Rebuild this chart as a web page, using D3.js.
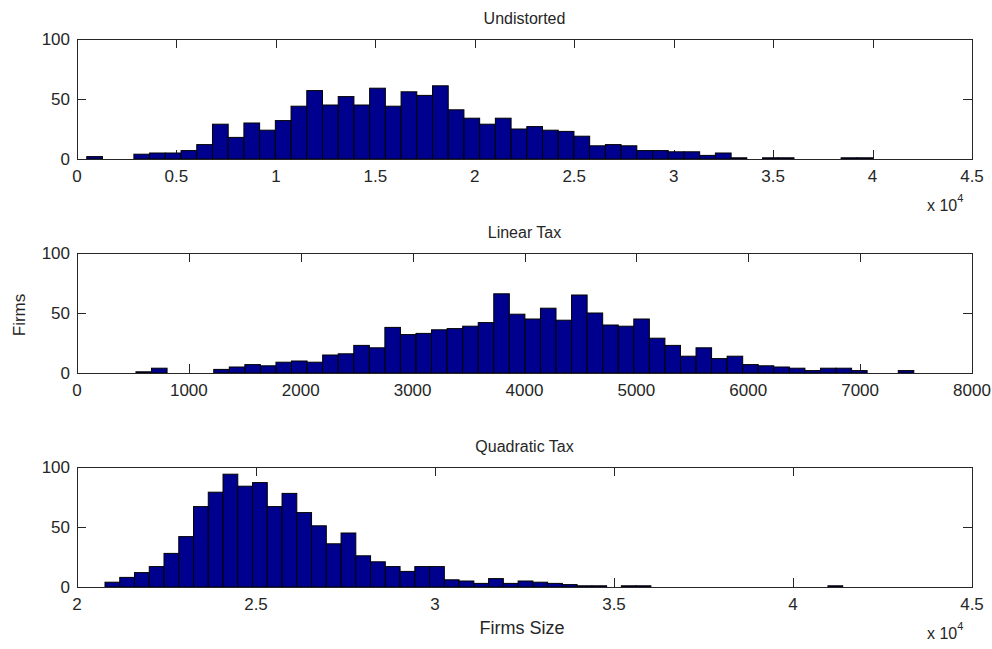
<!DOCTYPE html>
<html>
<head>
<meta charset="utf-8">
<script src="https://cdn.jsdelivr.net/npm/d3@7"></script>
<style>
  html, body { margin: 0; padding: 0; background: #fff; }
  svg text { font-family: "Liberation Sans", Arial, sans-serif; fill: #262626; }
</style>
</head>
<body>
<svg id="chart" width="992" height="649"></svg>
<script>
// Histogram counts (50 equal-width bins per panel)
const undistortedCounts = [2,0,0,4,5,5,7,12,29,18,30,24,32,44,57,45,52,45,59,44,
  56,53,61,41,34,29,34,25,27,24,23,19,11,12,11,7,7,6,6,3,5,1,0,1,1,0,0,0,1,1];
const linearCounts = [1,4,0,0,0,3,5,7,6,9,10,9,15,16,23,21,38,32,33,36,
  37,39,42,66,49,45,54,44,65,50,40,39,45,29,23,14,21,12,14,7,6,5,4,2,4,4,2,0,0,2];
const quadraticCounts = [4,8,12,17,28,42,67,79,94,84,87,67,78,62,51,36,45,26,21,17,
  13,17,17,6,5,3,7,3,5,4,3,2,1,1,0,1,1,0,0,0,0,0,0,0,0,0,0,0,0,1];

// Data range covered by the bins of each panel [min, max]
const undistortedRange = [490, 40000];
const linearRange = [527, 7480];
const quadraticRange = [20782, 41388];

// Axis domains and ticks
const undistortedDomain = [0, 45000];
const linearDomain = [0, 8000];
const quadraticDomain = [20000, 45000];
const undistortedTicks = [0, 5000, 10000, 15000, 20000, 25000, 30000, 35000, 40000, 45000];
const linearTicks = [0, 1000, 2000, 3000, 4000, 5000, 6000, 7000, 8000];
const quadraticTicks = [20000, 25000, 30000, 35000, 40000, 45000];
const yTicks = [0, 50, 100];

const titles = ["Undistorted", "Linear Tax", "Quadratic Tax"];

const svg = d3.select("#chart");
const left = 77, right = 972;
const panelTops = [39, 253, 467];
const panelH = 120;
const tickLen = 9;
const barFill = "rgb(0,0,143)";
const axisColor = "#262626";

const panels = [
  { counts: undistortedCounts, range: undistortedRange, domain: undistortedDomain, ticks: undistortedTicks, exp: true },
  { counts: linearCounts, range: linearRange, domain: linearDomain, ticks: linearTicks, exp: false },
  { counts: quadraticCounts, range: quadraticRange, domain: quadraticDomain, ticks: quadraticTicks, exp: true }
];

panels.forEach((p, k) => {
  const top = panelTops[k], bottom = top + panelH;
  const x = d3.scaleLinear().domain(p.domain).range([left, right]);
  const y = d3.scaleLinear().domain([0, 100]).range([bottom, top]);
  const g = svg.append("g");

  // bin edges from the bin range
  const n = p.counts.length;
  const w = (p.range[1] - p.range[0]) / n;
  const bins = p.counts.map((c, i) => ({ x0: p.range[0] + i * w, x1: p.range[0] + (i + 1) * w, c }));

  // inward ticks on all four sides
  const tickG = g.append("g").attr("stroke", axisColor).attr("stroke-width", 1).attr("shape-rendering", "crispEdges");
  p.ticks.forEach(t => {
    const xp = Math.round(x(t)) + 0.5;
    tickG.append("line").attr("x1", xp).attr("x2", xp).attr("y1", bottom).attr("y2", bottom - tickLen);
    tickG.append("line").attr("x1", xp).attr("x2", xp).attr("y1", top).attr("y2", top + tickLen);
  });
  yTicks.forEach(t => {
    const yp = Math.round(y(t)) + 0.5;
    tickG.append("line").attr("x1", left).attr("x2", left + tickLen).attr("y1", yp).attr("y2", yp);
    tickG.append("line").attr("x1", right).attr("x2", right - tickLen).attr("y1", yp).attr("y2", yp);
  });

  // bars
  g.append("g").selectAll("rect").data(bins).join("rect")
    .attr("x", d => x(d.x0))
    .attr("width", d => x(d.x1) - x(d.x0))
    .attr("y", d => y(d.c))
    .attr("height", d => y(0) - y(d.c))
    .attr("fill", barFill)
    .attr("stroke", "#000")
    .attr("stroke-width", 1);

  // axes box
  g.append("rect")
    .attr("x", left + 0.5).attr("y", top + 0.5)
    .attr("width", right - left).attr("height", panelH)
    .attr("fill", "none").attr("stroke", axisColor).attr("stroke-width", 1)
    .attr("shape-rendering", "crispEdges");

  // x tick labels
  const fmt = p.exp ? (t => d3.format("~g")(t / 10000)) : (t => String(t));
  g.append("g").selectAll("text").data(p.ticks).join("text")
    .attr("x", d => x(d)).attr("y", bottom + 23)
    .attr("text-anchor", "middle").attr("font-size", 17)
    .text(fmt);

  // y tick labels
  g.append("g").selectAll("text").data(yTicks).join("text")
    .attr("x", left - 7).attr("y", d => y(d) + 6)
    .attr("text-anchor", "end").attr("font-size", 17)
    .text(d => d);

  // title
  g.append("text")
    .attr("x", (left + right) / 2).attr("y", top - 15)
    .attr("text-anchor", "middle").attr("font-size", 16)
    .text(titles[k]);

  // exponent label
  if (p.exp) {
    const ex = g.append("text")
      .attr("x", 927).attr("y", bottom + 52)
      .attr("font-size", 16);
    ex.append("tspan").text("x 10");
    ex.append("tspan").attr("dy", -9).attr("font-size", 11).text("4");
  }
});

// axis labels
svg.append("text")
  .attr("transform", "translate(25,315) rotate(-90)")
  .attr("text-anchor", "middle").attr("font-size", 17)
  .text("Firms");

svg.append("text")
  .attr("x", 522).attr("y", 634)
  .attr("text-anchor", "middle").attr("font-size", 18)
  .text("Firms Size");
</script>
</body>
</html>
